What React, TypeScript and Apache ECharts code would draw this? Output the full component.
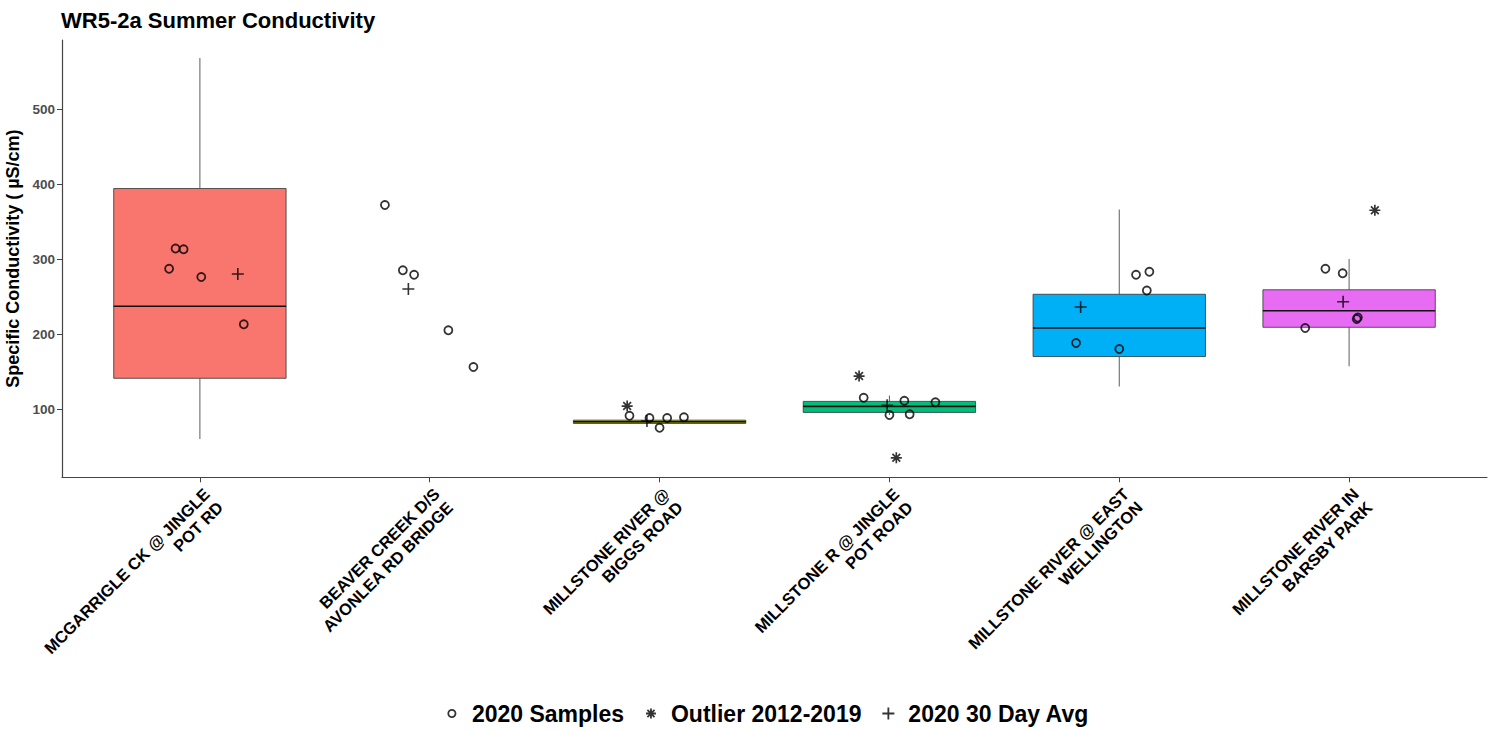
import React, { useEffect, useRef } from "react";
import * as echarts from "echarts";

// ---- data ----
const categories = [
  "MCGARRIGLE CK @ JINGLE\nPOT RD",
  "BEAVER CREEK D/S\nAVONLEA RD BRIDGE",
  "MILLSTONE RIVER @\nBIGGS ROAD",
  "MILLSTONE R @ JINGLE\nPOT ROAD",
  "MILLSTONE RIVER @ EAST\nWELLINGTON",
  "MILLSTONE RIVER IN\nBARSBY PARK",
];
const boxColors = ["#F8766D", null, "#A3A500", "#00BF7D", "#00B0F6", "#E76BF3"];
// box statistics per site (null = no box drawn)
const whiskerLow = [60, null, 80.8, 92, 130, 157];
const quartile1 = [141, null, 80.8, 95.5, 170, 209];
const medians = [237, null, 83, 103.5, 208, 231];
const quartile3 = [394, null, 85.2, 110.2, 253, 259];
const whiskerHigh = [568, null, 85.2, 118, 366, 300];

// [site index, horizontal jitter, value]
const samplePoints: number[][] = [
  [0, -0.134, 287], [0, -0.106, 314], [0, -0.071, 313], [0, 0.006, 276], [0, 0.191, 213],
  [1, -0.195, 372], [1, -0.117, 285], [1, -0.068, 279], [1, 0.081, 205], [1, 0.19, 156],
  [2, -0.131, 91], [2, -0.044, 88], [2, 0.0, 75], [2, 0.033, 88], [2, 0.106, 89],
  [3, -0.112, 115], [3, 0.0, 92], [3, 0.065, 111], [3, 0.088, 93], [3, 0.2, 109],
  [4, 0.073, 279], [4, 0.131, 283], [4, 0.12, 258], [4, -0.188, 188], [4, 0.0, 180],
  [5, -0.103, 287], [5, -0.028, 281], [5, 0.033, 220], [5, 0.038, 222], [5, -0.191, 208],
];
const outlierPoints: number[][] = [
  [2, -0.141, 104], [3, -0.132, 144], [3, 0.03, 35], [5, 0.112, 365],
];
const avgPoints: number[][] = [
  [0, 0.165, 280], [1, -0.093, 260], [2, -0.055, 84], [3, -0.01, 105], [4, -0.168, 236], [5, -0.026, 243],
];
const yTicks = [100, 200, 300, 400, 500];
const xTicks = [1, 2, 3, 4, 5, 6];

const FONT = "'Liberation Sans', Arial, Helvetica, sans-serif";
const ASTERISK = "path://M10,0L10,20M0,10L20,10M2.93,2.93L17.07,17.07M2.93,17.07L17.07,2.93";
const PLUS = "path://M10,0L10,20M0,10L20,10";
const LEG_CIRCLE = "path://M0,0M20,20M16,10A6,6,0,1,1,4,10A6,6,0,1,1,16,10Z";
const LEG_ASTERISK = "path://M0,0M20,20M10,1.7L10,18.3M1.7,10L18.3,10M4.1,4.1L15.9,15.9M4.1,15.9L15.9,4.1";
const LEG_PLUS = "path://M10,0L10,20M0,10L20,10";

export default function App() {
  const ref = useRef<HTMLDivElement>(null);
  useEffect(() => {
    if (!ref.current) return;
    const chart = echarts.init(ref.current, undefined, { renderer: "svg" });

    const boxData: number[][] = [];
    categories.forEach((_, i) => {
      if (medians[i] == null) return;
      boxData.push([
        i + 1,
        whiskerLow[i] as number,
        quartile1[i] as number,
        medians[i] as number,
        quartile3[i] as number,
        whiskerHigh[i] as number,
      ]);
    });
    const toXY = (arr: number[][]) => arr.map(([i, j, v]) => [i + 1 + j, v]);

    chart.setOption({
      animation: false,
      backgroundColor: "#ffffff",
      title: {
        text: "WR5-2a Summer Conductivity",
        left: 61,
        top: 9,
        padding: 0,
        textStyle: { fontFamily: FONT, fontSize: 22, fontWeight: "bold", color: "#000" },
      },
      grid: { left: 62, right: 8, top: 40, bottom: 253.7, containLabel: false, outerBoundsMode: "none" },
      legend: {
        left: 445,
        top: 702,
        padding: 0,
        itemWidth: 30,
        itemHeight: 12,
        itemGap: 20,
        itemStyle: { borderWidth: 1.8 },
        textStyle: { fontFamily: FONT, fontSize: 23, fontWeight: "bold", color: "#000" },
        data: [
          { name: "2020 Samples", icon: LEG_CIRCLE },
          { name: "Outlier 2012-2019", icon: LEG_ASTERISK },
          { name: "2020 30 Day Avg", icon: LEG_PLUS },
        ],
      },
      xAxis: {
        type: "value",
        min: 0.4,
        max: 6.6,
        splitLine: { show: false },
        axisLine: { show: true, lineStyle: { color: "#444", width: 1.2 } },
        axisTick: { show: true, length: 5, customValues: xTicks, lineStyle: { color: "#444", width: 1 } },
        axisLabel: {
          customValues: xTicks,
          formatter: (v: number) => categories[Math.round(v) - 1] ?? "",
          rotate: 45,
          align: "right",
          verticalAlign: "top",
          margin: 7,
          fontFamily: FONT,
          fontSize: 16.5,
          lineHeight: 19,
          fontWeight: "bold",
          color: "#000",
        },
      },
      yAxis: {
        type: "value",
        min: 9,
        max: 592,
        name: "Specific Conductivity ( \u00B5S/cm)",
        nameLocation: "middle",
        nameRotate: 90,
        nameGap: 37,
        nameTextStyle: { fontFamily: FONT, fontSize: 18, fontWeight: "bold", color: "#000" },
        splitLine: { show: false },
        axisLine: { show: true, lineStyle: { color: "#444", width: 1.2 } },
        axisTick: { show: true, length: 5, customValues: yTicks, lineStyle: { color: "#444", width: 1 } },
        axisLabel: {
          customValues: yTicks,
          margin: 7,
          fontFamily: FONT,
          fontSize: 13.5,
          fontWeight: "bold",
          color: "#4D4D4D",
        },
      },
      series: [
        {
          type: "custom",
          name: "boxes",
          z: 1,
          encode: { x: 0, y: [1, 2, 3, 4, 5] },
          data: boxData,
          renderItem: (params: any, api: any) => {
            const x = api.value(0);
            const lo = api.coord([x, api.value(1)]);
            const qa = api.coord([x, api.value(2)]);
            const md = api.coord([x, api.value(3)]);
            const qb = api.coord([x, api.value(4)]);
            const hi = api.coord([x, api.value(5)]);
            const half = api.size([0.75, 0])[0] / 2;
            const color = boxColors[Math.round(x) - 1] || "#ccc";
            return {
              type: "group",
              children: [
                { type: "line", shape: { x1: hi[0], y1: hi[1], x2: qb[0], y2: qb[1] }, style: { stroke: "#333", lineWidth: 0.8 } },
                { type: "line", shape: { x1: qa[0], y1: qa[1], x2: lo[0], y2: lo[1] }, style: { stroke: "#333", lineWidth: 0.8 } },
                {
                  type: "rect",
                  shape: { x: qa[0] - half, y: qb[1], width: half * 2, height: Math.max(qa[1] - qb[1], 1) },
                  style: { fill: color, stroke: "#333", lineWidth: 0.8 },
                },
                { type: "line", shape: { x1: md[0] - half, y1: md[1], x2: md[0] + half, y2: md[1] }, style: { stroke: "#111", lineWidth: 1.6 } },
              ],
            };
          },
        },
        {
          type: "scatter",
          name: "2020 Samples",
          z: 3,
          symbol: "circle",
          symbolSize: 8,
          itemStyle: { color: "transparent", borderColor: "#000", borderWidth: 1.8 },
          data: toXY(samplePoints),
        },
        {
          type: "scatter",
          name: "Outlier 2012-2019",
          z: 3,
          symbol: ASTERISK,
          symbolSize: 11,
          itemStyle: { color: "transparent", borderColor: "#000", borderWidth: 1.7 },
          data: toXY(outlierPoints),
        },
        {
          type: "scatter",
          name: "2020 30 Day Avg",
          z: 3,
          symbol: PLUS,
          symbolSize: 12,
          itemStyle: { color: "transparent", borderColor: "#000", borderWidth: 1.6 },
          data: toXY(avgPoints),
        },
      ],
    });
    return () => chart.dispose();
  }, []);
  return (
    <div
      ref={ref}
      style={{ position: "fixed", left: 0, top: 0, width: 1495, height: 731, background: "#fff" }}
    />
  );
}
